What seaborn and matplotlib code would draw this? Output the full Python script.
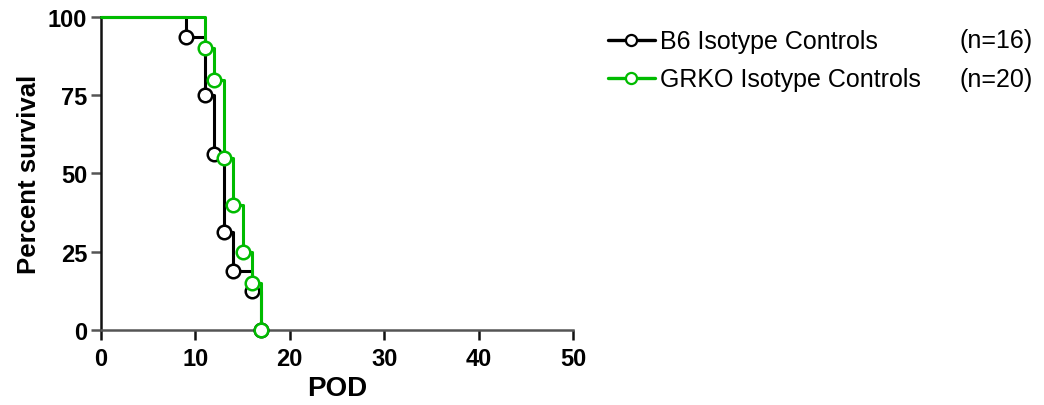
import matplotlib
matplotlib.use("Agg")
import matplotlib.pyplot as plt
from matplotlib.lines import Line2D
import seaborn as sns
import pandas as pd

# ---- data ----
b6_days = [0, 9, 11, 12, 13, 14, 16, 17]
b6_surv = [100, 93.75, 75, 56.25, 31.25, 18.75, 12.5, 0]
grko_days = [0, 11, 12, 13, 14, 15, 16, 17]
grko_surv = [100, 90, 80, 55, 40, 25, 15, 0]
group_names = ["B6 Isotype Controls", "GRKO Isotype Controls"]
group_n = ["(n=16)", "(n=20)"]
x_ticks = [0, 10, 20, 30, 40, 50]
y_ticks = [0, 25, 50, 75, 100]

sns.set_style("ticks")
plt.rcParams["font.family"] = ["Liberation Sans", "DejaVu Sans"]
plt.rcParams["text.color"] = "black"
plt.rcParams["axes.labelcolor"] = "black"
plt.rcParams["xtick.color"] = "black"
plt.rcParams["ytick.color"] = "black"

GREEN = "#00BB00"
colors = ["black", GREEN]

fig = plt.figure(figsize=(10.44, 4.06), dpi=100)
ax = fig.add_axes([0.0967, 0.1847, 0.4522, 0.771])

series = [(b6_days, b6_surv), (grko_days, grko_surv)]
for i, ((d, s), c) in enumerate(zip(series, colors)):
    df = pd.DataFrame({"POD": d, "surv": s})
    sns.lineplot(data=df, x="POD", y="surv", ax=ax, color=c, linewidth=2.2,
                 drawstyle="steps-post", estimator=None, sort=False,
                 zorder=2 + i * 2, clip_on=False)
    sns.scatterplot(data=df.iloc[1:], x="POD", y="surv", ax=ax, marker="o",
                    s=95, facecolor="white", edgecolor=c, linewidth=1.8,
                    zorder=3 + i * 2, clip_on=False)

ax.set_xlim(0, 50)
ax.set_ylim(0, 100)
ax.set_xticks(x_ticks)
ax.set_yticks(y_ticks)
ax.set_xticklabels([str(t) for t in x_ticks], fontsize=17, fontweight="bold")
ax.set_yticklabels([str(t) for t in y_ticks], fontsize=17, fontweight="bold")
ax.set_xlabel("POD", fontsize=20, fontweight="bold", labelpad=4)
ax.set_ylabel("Percent survival", fontsize=18.5, fontweight="bold", labelpad=5)

for side in ["top", "right"]:
    ax.spines[side].set_visible(False)
ax.spines["left"].set_color("#111111")
ax.spines["left"].set_linewidth(1.8)
ax.spines["bottom"].set_color("#555555")
ax.spines["bottom"].set_linewidth(1.8)
ax.tick_params(axis="y", direction="out", length=7, width=1.8, color="#555555", pad=3)
ax.tick_params(axis="x", direction="out", length=7, width=1.8, color="#111111", pad=5)

handles = [Line2D([0], [0], color=c, linewidth=2.4, marker="o", markersize=8,
                  markerfacecolor="white", markeredgecolor=c, markeredgewidth=1.6)
           for c in colors]
fig.legend(handles, group_names, loc="upper left", bbox_to_anchor=(0.582, 0.925),
           frameon=False, fontsize=18, handlelength=1.9, handletextpad=0.2,
           labelspacing=0.56, borderaxespad=0, borderpad=0)
fig.text(0.989, 0.899, group_n[0], fontsize=18, ha="right", va="center")
fig.text(0.989, 0.803, group_n[1], fontsize=18, ha="right", va="center")

fig.savefig("out.png", dpi=100)
